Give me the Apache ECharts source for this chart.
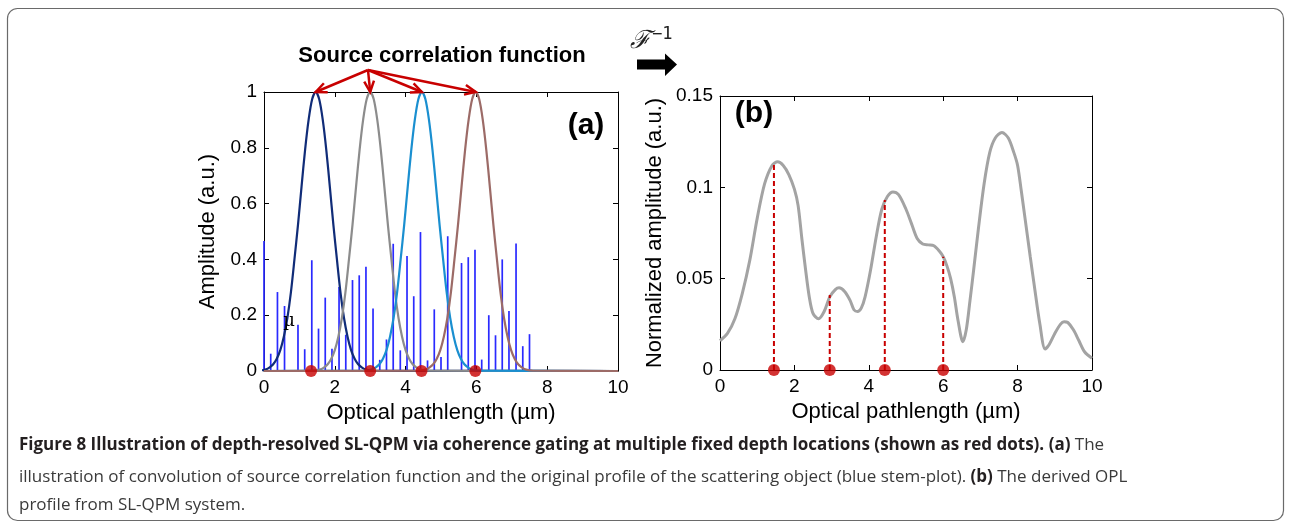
<!DOCTYPE html>
<html>
<head>
<meta charset="utf-8">
<script src="https://cdn.jsdelivr.net/npm/echarts@6/dist/echarts.min.js"></script>
<style>
  html, body { margin: 0; padding: 0; background: #fff; }
  #chart { width: 1289px; height: 524px; }
</style>
</head>
<body>
<div id="chart"></div>
<script>
// ---- Panel (a): scatterer profile (stem plot) ----
const stemX = [0, 0.19, 0.38, 0.58, 0.96, 1.15, 1.35, 1.54, 1.73, 1.92, 2.12, 2.31, 2.50, 2.69,
  2.88, 3.08, 3.27, 3.46, 3.65, 3.85, 4.04, 4.23, 4.42, 4.62, 4.81, 5.00, 5.19, 5.58, 5.77,
  5.96, 6.15, 6.35, 6.54, 6.73, 6.92, 7.12, 7.31, 7.50];
const stemY = [0.466, 0.062, 0.283, 0.233, 0.166, 0.078, 0.397, 0.152, 0.263, 0.080, 0.301, 0.130,
  0.326, 0.343, 0.374, 0.224, 0.040, 0.113, 0.456, 0.074, 0.412, 0.268, 0.498, 0.038, 0.221,
  0.050, 0.483, 0.387, 0.408, 0.435, 0.041, 0.200, 0.128, 0.400, 0.215, 0.457, 0.089, 0.132];

// Source correlation function shape (offset from centre, amplitude)
const profileOffset = [-1.6, -1.4, -1.3, -1.2, -1.1, -1.0, -0.9, -0.8, -0.7, -0.6, -0.5, -0.4, -0.3,
  -0.2, -0.1, 0, 0.1, 0.2, 0.3, 0.4, 0.5, 0.6, 0.7, 0.8, 0.9, 1.0, 1.1, 1.2, 1.3, 1.4, 1.6];
const profileAmp = [0.001, 0.006, 0.013, 0.024, 0.044, 0.075, 0.123, 0.19, 0.282, 0.40, 0.524, 0.66,
  0.792, 0.90, 0.974, 1, 0.974, 0.90, 0.792, 0.66, 0.524, 0.40, 0.282, 0.19, 0.123, 0.075, 0.044,
  0.024, 0.013, 0.006, 0.001];
const gateCentres = [1.46, 3.0, 4.46, 5.98];
const gateColours = ['#102c78', '#8c8c8c', '#1a8fd0', '#9c6b67'];
const dotsA = [1.33, 3.0, 4.45, 5.97];

// ---- Panel (b): derived OPL profile ----
const oplX = [0, 0.2, 0.4, 0.6, 0.8, 1.0, 1.2, 1.4, 1.55, 1.7, 1.85, 2.0, 2.1, 2.2, 2.3, 2.4, 2.5,
  2.65, 2.8, 2.95, 3.1, 3.2, 3.35, 3.5, 3.6, 3.7, 3.8, 3.9, 4.05, 4.2, 4.35, 4.5, 4.65, 4.8, 5.0,
  5.15, 5.3, 5.45, 5.6, 5.75, 5.9, 6.0, 6.1, 6.2, 6.3, 6.4, 6.53, 6.62, 6.72, 6.82, 6.95, 7.1,
  7.25, 7.4, 7.58, 7.75, 7.9, 8.0, 8.1, 8.2, 8.34, 8.45, 8.6, 8.74, 8.85, 9.0, 9.15, 9.25, 9.35,
  9.5, 9.65, 9.8, 10];
const oplY = [0.016, 0.020, 0.028, 0.042, 0.060, 0.083, 0.102, 0.112, 0.114, 0.112, 0.107, 0.099,
  0.090, 0.072, 0.055, 0.040, 0.031, 0.028, 0.032, 0.040, 0.044, 0.045, 0.043, 0.038, 0.033,
  0.032, 0.034, 0.040, 0.055, 0.073, 0.088, 0.095, 0.0975, 0.096, 0.088, 0.080, 0.072, 0.069,
  0.0685, 0.068, 0.065, 0.062, 0.057, 0.050, 0.040, 0.027, 0.0155, 0.022, 0.038, 0.055, 0.078,
  0.102, 0.119, 0.127, 0.130, 0.127, 0.119, 0.112, 0.098, 0.083, 0.062, 0.046, 0.025, 0.0115,
  0.014, 0.020, 0.025, 0.0264, 0.026, 0.022, 0.016, 0.010, 0.0064];
const gateX = [1.45, 2.95, 4.43, 6.0];
const gateY = [0.113, 0.041, 0.093, 0.062];

const FONT = 'Liberation Sans, Arial, sans-serif';
const RED = '#c80000';

const chart = echarts.init(document.getElementById('chart'), null, { renderer: 'canvas' });

function boxAxis(gridIndex, pos, min, max, interval, extra) {
  const isMain = pos === 'bottom' || pos === 'left';
  return Object.assign({
    type: 'value', gridIndex, position: pos, min, max, interval,
    axisLine: { show: true, onZero: false, lineStyle: { color: '#000', width: 1 } },
    axisTick: { show: true, inside: true, length: 5, lineStyle: { color: '#000' } },
    axisLabel: { show: isMain, color: '#000', fontSize: 19, fontFamily: FONT, margin: 7 },
    splitLine: { show: false }
  }, extra || {});
}

function gateCurve(c) {
  const pts = [];
  if (c + profileOffset[0] > 0) pts.push([0, 0]);
  for (let i = 0; i < profileOffset.length; i++) pts.push([c + profileOffset[i], profileAmp[i]]);
  pts.push([10, 0]);
  return pts;
}

const xName = {
  name: 'Optical pathlength (\u00b5m)', nameLocation: 'middle', nameGap: 28,
  nameTextStyle: { color: '#000', fontSize: 22, fontFamily: FONT }
};

const series = [];
// stems
series.push({
  type: 'custom', xAxisIndex: 0, yAxisIndex: 0, z: 2,
  data: stemX.map((x, i) => [x, stemY[i]]),
  encode: { x: 0, y: 1 },
  renderItem: (params, api) => {
    const p0 = api.coord([api.value(0), 0]);
    const p1 = api.coord([api.value(0), api.value(1)]);
    return { type: 'line', shape: { x1: p0[0], y1: p0[1], x2: p1[0], y2: p1[1] },
      style: { stroke: '#2a2aff', lineWidth: 1.7 } };
  }
});
// source correlation functions
gateCentres.forEach((c, k) => {
  series.push({
    type: 'line', xAxisIndex: 0, yAxisIndex: 0, z: 3,
    data: gateCurve(c), smooth: 0.3, showSymbol: false, symbol: 'none',
    lineStyle: { color: gateColours[k], width: 2.2 }, clip: true
  });
});
// fixed depth locations (a)
series.push({
  type: 'scatter', xAxisIndex: 0, yAxisIndex: 0, z: 5,
  data: dotsA.map(x => [x, 0]), symbolSize: 12,
  itemStyle: { color: RED }, clip: false
});
// OPL profile (b)
series.push({
  type: 'line', xAxisIndex: 2, yAxisIndex: 2, z: 3,
  data: oplX.map((x, i) => [x, oplY[i]]), smooth: 0.3,
  showSymbol: false, symbol: 'none', lineStyle: { color: '#a3a3a3', width: 3 }
});
// dashed gate lines (b)
series.push({
  type: 'custom', xAxisIndex: 2, yAxisIndex: 2, z: 4,
  data: gateX.map((x, i) => [x, gateY[i]]),
  encode: { x: 0, y: 1 },
  renderItem: (params, api) => {
    const p0 = api.coord([api.value(0), 0]);
    const p1 = api.coord([api.value(0), api.value(1)]);
    return { type: 'line', shape: { x1: p0[0], y1: p0[1], x2: p1[0], y2: p1[1] },
      style: { stroke: RED, lineWidth: 2, lineDash: [5, 3] } };
  }
});
series.push({
  type: 'scatter', xAxisIndex: 2, yAxisIndex: 2, z: 5,
  data: gateX.map(x => [x, 0]), symbolSize: 12,
  itemStyle: { color: RED }, clip: false
});

chart.setOption({
  animation: false,
  backgroundColor: '#fff',
  grid: [
    { left: 264, right: 671, top: 92, bottom: 153 },
    { left: 720, right: 197, top: 96, bottom: 154 }
  ],
  xAxis: [
    boxAxis(0, 'bottom', 0, 10, 2, xName),
    boxAxis(0, 'top', 0, 10, 2),
    boxAxis(1, 'bottom', 0, 10, 2, xName),
    boxAxis(1, 'top', 0, 10, 2)
  ],
  yAxis: [
    boxAxis(0, 'left', 0, 1, 0.2, {
      name: 'Amplitude (a.u.)', nameLocation: 'middle', nameGap: 45, nameRotate: 90,
      nameTextStyle: { color: '#000', fontSize: 22, fontFamily: FONT }
    }),
    boxAxis(0, 'right', 0, 1, 0.2),
    boxAxis(1, 'left', 0, 0.15, 0.05, {
      name: 'Normalized amplitude (a.u.)', nameLocation: 'middle', nameGap: 54, nameRotate: 90,
      nameTextStyle: { color: '#000', fontSize: 22, fontFamily: FONT }
    }),
    boxAxis(1, 'right', 0, 0.15, 0.05)
  ],
  series
});

// Annotations: arrows pointing at each correlation peak, panel tags, caption
const start = [368, 70];
const arrowEls = [];
gateCentres.forEach(c => {
  const tip = chart.convertToPixel({ gridIndex: 0 }, [c, 1]);
  const ang = Math.atan2(tip[1] - start[1], tip[0] - start[0]);
  const L = 12, spread = 0.42;
  arrowEls.push({
    type: 'line', shape: { x1: start[0], y1: start[1], x2: tip[0], y2: tip[1] },
    style: { stroke: RED, lineWidth: 2.5 }, z: 20
  });
  arrowEls.push({
    type: 'polyline',
    shape: { points: [
      [tip[0] - L * Math.cos(ang - spread), tip[1] - L * Math.sin(ang - spread)],
      tip,
      [tip[0] - L * Math.cos(ang + spread), tip[1] - L * Math.sin(ang + spread)]
    ] },
    style: { stroke: RED, lineWidth: 2.5, fill: null }, z: 20
  });
});

const capBold = { fontFamily: 'Open Sans, Noto Sans, sans-serif', fontWeight: 'bold', fontSize: 17, fill: '#231f20' };
const capNorm = { fontFamily: 'Open Sans, Noto Sans, sans-serif', fontWeight: 'normal', fontSize: 17, fill: '#3a3a3a' };

chart.setOption({
  graphic: [
    // figure frame
    { type: 'rect', shape: { x: 7.5, y: 8.5, width: 1276, height: 512, r: 10 },
      style: { stroke: '#6a6a6a', fill: null, lineWidth: 1.2 }, z: 1 },
    { type: 'text', x: 442, y: 56, style: { text: 'Source correlation function', fontFamily: FONT,
      fontWeight: 'bold', fontSize: 22, fill: '#000', align: 'center', verticalAlign: 'middle' }, z: 20 },
    ...arrowEls,
    { type: 'text', x: 586, y: 126, style: { text: '(a)', fontFamily: FONT, fontWeight: 'bold',
      fontSize: 30, fill: '#000', align: 'center', verticalAlign: 'middle' }, z: 20 },
    { type: 'text', x: 754, y: 114, style: { text: '(b)', fontFamily: FONT, fontWeight: 'bold',
      fontSize: 30, fill: '#000', align: 'center', verticalAlign: 'middle' }, z: 20 },
    { type: 'text', x: 289, y: 321, style: { text: '\u00b5', fontFamily: 'DejaVu Serif, serif',
      fontSize: 18, fill: '#000', align: 'center', verticalAlign: 'middle' }, z: 20 },
    // inverse transform symbol and arrow
    { type: 'text', x: 630, y: 40, style: {
      text: '{f|\u2131}{s|\u22121}',
      rich: {
        f: { fontFamily: 'DejaVu Serif, serif', fontStyle: 'italic', fontSize: 25, fill: '#222', verticalAlign: 'bottom' },
        s: { fontFamily: 'DejaVu Sans Mono, monospace', fontSize: 17, fill: '#222', verticalAlign: 'top', padding: [0, 0, 10, 1] }
      },
      verticalAlign: 'middle' }, z: 20 },
    { type: 'polygon', shape: { points: [[637, 59.5], [665, 59.5], [665, 53.5], [677, 64.5], [665, 76], [665, 69.5], [637, 69.5]] },
      style: { fill: '#000' }, z: 20 },
    // caption
    { type: 'text', x: 19, y: 445, style: {
      text: '{b|Figure 8 Illustration of depth-resolved SL-QPM via coherence gating at multiple fixed depth locations (shown as red dots). (a)}{n| The}',
      rich: { b: capBold, n: capNorm }, verticalAlign: 'middle' }, z: 20 },
    { type: 'text', x: 19, y: 477, style: {
      text: '{n|illustration of convolution of source correlation function and the original profile of the scattering object (blue stem-plot). }{b|(b)}{n| The derived OPL}',
      rich: { b: capBold, n: capNorm }, verticalAlign: 'middle' }, z: 20 },
    { type: 'text', x: 19, y: 505, style: {
      text: '{n|profile from SL-QPM system.}',
      rich: { n: capNorm }, verticalAlign: 'middle' }, z: 20 }
  ]
});
</script>
</body>
</html>
